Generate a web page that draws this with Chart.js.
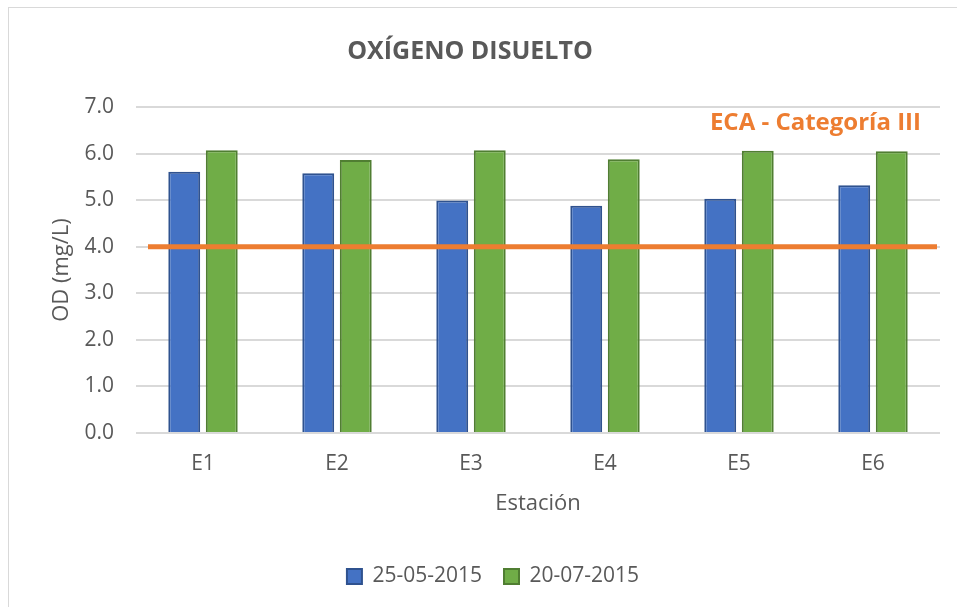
<!DOCTYPE html>
<html>
<head>
<meta charset="utf-8">
<script src="https://cdn.jsdelivr.net/npm/chart.js@4"></script>
<style>
  html, body { margin: 0; padding: 0; background: #fff; }
  #wrap { position: absolute; left: 0; top: 0; width: 957px; height: 607px; }
  #frame { position: absolute; left: 8px; top: 7px; width: 960px; height: 610px; border: 1px solid #d9d9d9; box-sizing: border-box; }
  canvas { position: absolute; left: 0; top: 0; }
</style>
</head>
<body>
<div id="wrap">
  <div id="frame"></div>
  <canvas id="odChart" width="957" height="607"></canvas>
</div>
<script>
// Data
const stations = ['E1', 'E2', 'E3', 'E4', 'E5', 'E6'];
const od25May2015 = [5.61, 5.58, 4.99, 4.88, 5.03, 5.32];
const od20Jul2015 = [6.07, 5.86, 6.07, 5.88, 6.06, 6.05];
const seriesLabels = ['25-05-2015', '20-07-2015'];
const ecaLimit = 4.0;
const ecaLabel = 'ECA - Categoría III';
const yMin = 0;
const yMax = 7;
const yStep = 1;

const textColor = '#595959';
const fontFamily = "'Open Sans', sans-serif";

// Draws the ECA reference line and its label on top of the bars
const ecaLinePlugin = {
    id: 'ecaLine',
    afterLayout(chart) {
        // legend sits a bit right of the canvas centre in the original
        chart.legend.left += 46;
    },
    afterDatasetsDraw(chart) {
        const ctx = chart.ctx;
        const area = chart.chartArea;
        const yScale = chart.scales.y;
        const y = yScale.getPixelForValue(ecaLimit);
        ctx.save();
        ctx.strokeStyle = '#ED7D31';
        ctx.lineWidth = 5;
        ctx.beginPath();
        ctx.moveTo(area.left + 12, y);
        ctx.lineTo(area.right - 3, y);
        ctx.stroke();

        ctx.fillStyle = '#ED7D31';
        ctx.font = "bold 24px 'Open Sans', sans-serif";
        ctx.textAlign = 'right';
        ctx.textBaseline = 'alphabetic';
        ctx.fillText(ecaLabel, area.right - 19, yScale.getPixelForValue(6.5));
        ctx.restore();
    }
};

const ctx = document.getElementById('odChart').getContext('2d');
const odChart = new Chart(ctx, {
    type: 'bar',
    data: {
        labels: stations,
        datasets: [{
            label: seriesLabels[0],
            data: od25May2015,
            backgroundColor: '#4472C4',
            borderColor: '#2F528F',
            borderWidth: 2,
            categoryPercentage: 0.56,
            barPercentage: 0.85
        }, {
            label: seriesLabels[1],
            data: od20Jul2015,
            backgroundColor: '#70AD47',
            borderColor: '#507E32',
            borderWidth: 2,
            categoryPercentage: 0.56,
            barPercentage: 0.85
        }]
    },
    options: {
        responsive: false,
        animation: false,
        layout: {
            padding: { left: 0, right: 17, top: 0, bottom: 10 }
        },
        plugins: {
            title: {
                display: true,
                text: 'OXÍGENO DISUELTO',
                color: textColor,
                font: { family: fontFamily, size: 25, weight: 'bold' },
                padding: { top: 37, bottom: 40 }
            },
            legend: {
                position: 'bottom',
                labels: {
                    color: textColor,
                    font: { family: fontFamily, size: 21 },
                    boxWidth: 15,
                    boxHeight: 15,
                    padding: 22
                }
            },
            tooltip: { enabled: false }
        },
        scales: {
            x: {
                grid: { display: false },
                border: { display: false },
                ticks: { color: textColor, font: { family: fontFamily, size: 21 }, padding: 10 },
                title: {
                    display: true,
                    text: 'Estación',
                    color: textColor,
                    font: { family: fontFamily, size: 22 },
                    padding: { top: 0, bottom: 27 }
                },
                afterFit(scale) { scale.height = 111; }
            },
            y: {
                min: yMin,
                max: yMax,
                grid: { color: '#d9d9d9', lineWidth: 2, drawTicks: false },
                border: { display: false },
                ticks: {
                    stepSize: yStep,
                    color: textColor,
                    font: { family: fontFamily, size: 21 },
                    padding: 22,
                    callback: v => Number(v).toFixed(1)
                },
                title: {
                    display: true,
                    text: 'OD (mg/L)',
                    color: textColor,
                    font: { family: fontFamily, size: 22 },
                    padding: { top: 49, bottom: 0 }
                },
                afterFit(scale) { scale.width = 136; }
            }
        }
    },
    plugins: [ecaLinePlugin]
});
</script>
</body>
</html>
